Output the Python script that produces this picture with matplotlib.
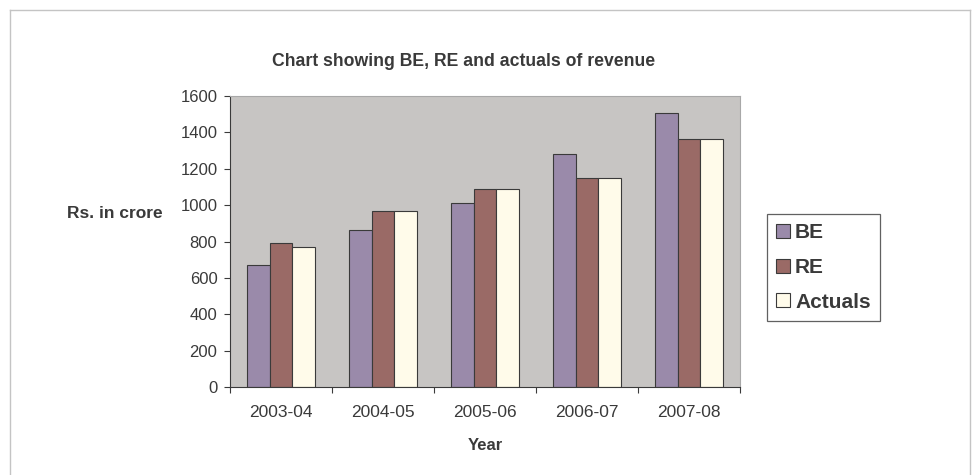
import matplotlib
matplotlib.use('Agg')
import matplotlib.pyplot as plt
import numpy as np
from matplotlib.lines import Line2D

# data (Rs. in crore)
years = ["2003-04", "2004-05", "2005-06", "2006-07", "2007-08"]
be = [670, 865, 1010, 1280, 1505]
re_ = [790, 965, 1090, 1150, 1365]
actuals = [770, 965, 1090, 1150, 1365]
series_names = ["BE", "RE", "Actuals"]
y_ticks = [0, 200, 400, 600, 800, 1000, 1200, 1400, 1600]

colors = ["#9a8aaa", "#9a6a66", "#fffbea"]
text_col = "#3a3a3a"
edge_col = "#3a3a3a"

plt.rcParams['font.family'] = ['Liberation Sans', 'DejaVu Sans']

W, H = 976, 475
fig = plt.figure(figsize=(W / 100, H / 100), dpi=100)
fig.patch.set_facecolor("white")

# plot area in pixels
left, right, top, bottom = 230, 740, 96, 387
ax = fig.add_axes([left / W, 1 - bottom / H, (right - left) / W, (bottom - top) / H])
ax.set_facecolor("#c7c5c3")

x = np.arange(len(years))
w = 0.222
for i, (vals, c, name) in enumerate(zip([be, re_, actuals], colors, series_names)):
    ax.bar(x + (i - 1) * w, vals, width=w, color=c, edgecolor=edge_col,
           linewidth=0.8, label=name, zorder=2)

ax.set_xlim(-0.5, len(years) - 0.5)
ax.set_ylim(0, 1600)
ax.set_yticks(y_ticks)
ax.set_yticklabels([str(v) for v in y_ticks], fontsize=12, color=text_col)
ax.tick_params(axis='y', direction='out', length=4, width=0.8, color=edge_col, pad=5)

# tick marks on category boundaries, labels at centres
ax.set_xticks(np.arange(len(years) + 1) - 0.5)
ax.set_xticklabels([])
ax.tick_params(axis='x', which='major', direction='out', length=4, width=0.8, color=edge_col)
ax.set_xticks(x, minor=True)
ax.set_xticklabels(years, minor=True, fontsize=12.5, color=text_col)
ax.tick_params(axis='x', which='minor', length=0, pad=13)

for s in ["left", "bottom"]:
    ax.spines[s].set_color(edge_col)
    ax.spines[s].set_linewidth(0.8)
for s in ["top", "right"]:
    ax.spines[s].set_color("#a8a8a8")
    ax.spines[s].set_linewidth(0.8)

fig.text(464 / W, 1 - 61 / H, "Chart showing BE, RE and actuals of revenue",
         ha="center", va="center", fontsize=12.7, fontweight="bold", color=text_col)
fig.text(115 / W, 1 - 213 / H, "Rs. in crore", ha="center", va="center",
         fontsize=12.5, fontweight="bold", color=text_col)
fig.text(485 / W, 1 - 446 / H, "Year", ha="center", va="center",
         fontsize=12, fontweight="bold", color=text_col)

leg = fig.legend(loc="upper left", bbox_to_anchor=(767 / W, 1 - 214 / H),
                 bbox_transform=fig.transFigure, fancybox=False, frameon=True,
                 prop={"size": 15, "weight": "bold"}, handlelength=0.65,
                 handleheight=0.65, handletextpad=0.25, labelspacing=0.75,
                 borderpad=0.45, borderaxespad=0)
leg.get_frame().set_edgecolor(edge_col)
leg.get_frame().set_linewidth(0.9)
for t in leg.get_texts():
    t.set_color(text_col)

# outer chart border
bc = "#c4c4c4"
fig.add_artist(Line2D([10 / W, 970 / W], [1 - 10 / H, 1 - 10 / H], color=bc, lw=1))
fig.add_artist(Line2D([10 / W, 10 / W], [1 - 10 / H, 0], color=bc, lw=1))
fig.add_artist(Line2D([970 / W, 970 / W], [1 - 10 / H, 0], color=bc, lw=1))

fig.savefig("out.png", dpi=100)
